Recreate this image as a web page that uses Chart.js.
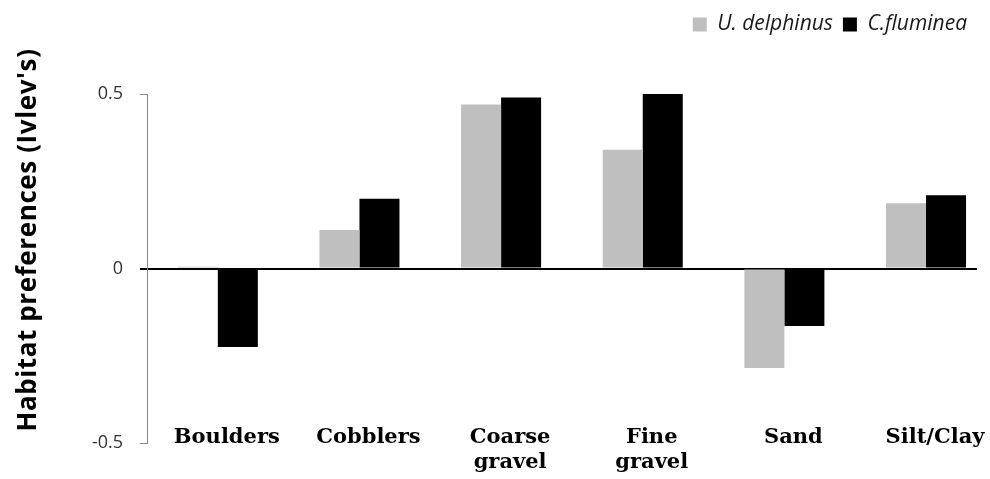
<!DOCTYPE html>
<html><head><meta charset="utf-8">
<script src="https://cdn.jsdelivr.net/npm/chart.js@4"></script>
<style>html,body{margin:0;padding:0;background:#fff;}#wrap{width:990px;height:479px;position:relative;}</style>
</head><body><div id="wrap"><canvas id="c"></canvas></div>
<script>
const categories = [["Boulders"], ["Cobblers"], ["Coarse", "gravel"], ["Fine", "gravel"], ["Sand"], ["Silt/Clay"]];
const seriesNames = ["U. delphinus", "C.fluminea"];
const uDelphinus = [0.005, 0.11, 0.47, 0.34, -0.285, 0.187];
const cFluminea = [-0.225, 0.2, 0.49, 0.5, -0.165, 0.21];
const yTicks = [-0.5, 0, 0.5];
const yTitle = "Habitat preferences (Ivlev's)";

const catLabelPlugin = {
  id: 'catLabels',
  afterDraw(chart) {
    const ctx = chart.ctx, xs = chart.scales.x, ca = chart.chartArea;
    ctx.save();
    ctx.fillStyle = '#000';
    ctx.font = 'bold 21px "DejaVu Serif"';
    ctx.textAlign = 'center';
    ctx.textBaseline = 'alphabetic';
    categories.forEach((lines, i) => {
      const x = xs.getPixelForValue(i) + 9;
      lines.forEach((t, j) => ctx.fillText(t, x, ca.bottom + j * 25));
    });
    ctx.translate(29, 240);
    ctx.rotate(-Math.PI / 2);
    ctx.textAlign = 'center';
    ctx.textBaseline = 'middle';
    ctx.font = 'bold 26px "Open Sans"';
    try { ctx.letterSpacing = '0.6px'; } catch (e) {}
    ctx.fillText(yTitle, 0, 0);
    ctx.restore();
  }
};

new Chart(document.getElementById('c'), {
  type: 'bar',
  data: {
    datasets: [
      { label: seriesNames[0], data: uDelphinus.map((v, i) => ({x: i, y: v})), backgroundColor: '#bfbfbf', borderWidth: 0 },
      { label: seriesNames[1], data: cFluminea.map((v, i) => ({x: i, y: v})), backgroundColor: '#000000', borderWidth: 0 }
    ]
  },
  options: {
    responsive: true,
    maintainAspectRatio: false,
    animation: false,
    layout: { padding: { top: 4, right: 13, bottom: 36, left: 0 } },
    datasets: { bar: { categoryPercentage: 0.565, barPercentage: 1 } },
    plugins: {
      tooltip: { enabled: false },
      legend: {
        position: 'top', align: 'end',
        labels: { boxWidth: 14, boxHeight: 14, padding: 10, color: '#1a1a1a', font: { family: 'Open Sans', style: 'italic', size: 21 } }
      }
    },
    scales: {
      x: {
        type: 'linear', position: 'top', min: -0.5, max: 5.36, offset: false,
        afterBuildTicks: s => { s.ticks = categories.map((c, i) => ({ value: i })); },
        afterFit: s => { s.height = 49; },
        ticks: { display: false }, grid: { display: false }, border: { display: false }
      },
      y: {
        min: -0.5, max: 0.5, z: 1,
        afterBuildTicks: s => { s.ticks = yTicks.map(v => ({ value: v })); },
        afterFit: s => { s.width = 147; },
        ticks: { padding: 17, color: '#333', font: { family: 'Open Sans', size: 18 }, callback: v => String(v) },
        grid: {
          color: c => c.tick && c.tick.value === 0 ? '#000' : 'rgba(0,0,0,0)',
          lineWidth: c => c.tick && c.tick.value === 0 ? 2 : 1,
          tickColor: c => c.tick && c.tick.value === 0 ? '#000' : '#868686',
          tickLength: 7
        },
        border: { display: true, color: '#868686', width: 1 }
      }
    }
  },
  plugins: [catLabelPlugin]
});
</script></body></html>
